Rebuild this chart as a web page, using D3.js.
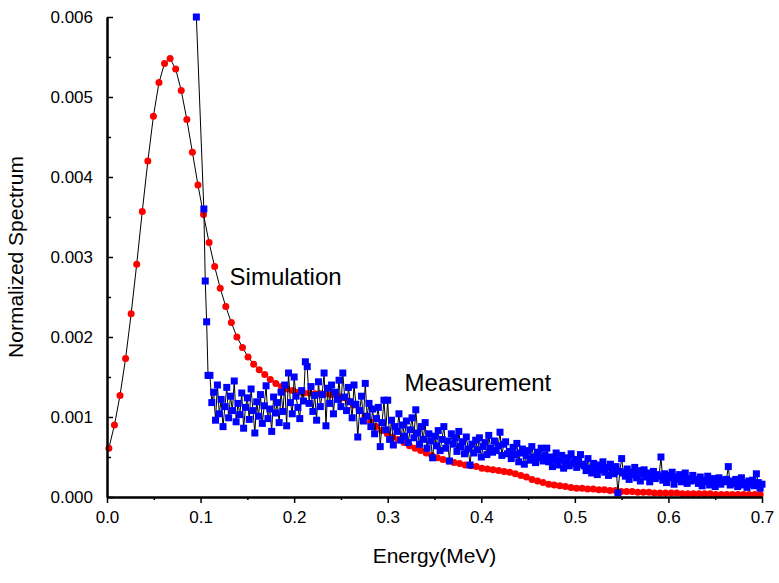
<!DOCTYPE html>
<html>
<head>
<meta charset="utf-8">
<script src="https://cdn.jsdelivr.net/npm/d3@7"></script>
<style>
  body { margin: 0; background: #fff; }
  text { font-family: Arial, "Liberation Sans", sans-serif; fill: #000; }
</style>
</head>
<body>
<div id="chart"></div>
<script>
// Simulation: one value per energy bin (bin width about 0.006 MeV), in units of 1e-5
var simStart = 0.002, simStep = 0.00595;
var simValues = [
  61, 90, 127, 173, 229, 291, 357, 420, 476, 518,
  542, 548, 535, 508, 472, 431, 390, 353, 318, 288,
  261, 238, 218, 200, 187, 175, 166, 159, 153, 147,
  142, 138, 135, 133, 131, 130, 130, 129, 129, 129,
  128, 127, 124, 120, 115, 108, 101, 94, 88, 83,
  79, 75, 72, 68, 64, 61, 58, 55, 52, 49,
  47, 45, 43, 42, 40, 39, 38, 36, 35, 34,
  33, 32, 31, 29, 27, 25, 22, 20, 18, 16,
  15, 14, 13, 12, 11, 11, 10, 10, 9, 9,
  8, 8, 7, 7, 7, 6, 6, 6, 5, 5,
  5, 5, 5, 4, 4, 4, 4, 4, 4, 3,
  3, 3, 3, 3, 3, 3, 3, 3
];

// Measurement: first points on the falling edge, given as [energy, value]
var measEdge = [[0.0955, 600], [0.1035, 360], [0.105, 270], [0.1065, 219], [0.108, 152]];
// then one value every 0.002 MeV from 0.110 to 0.700, in units of 1e-5
var measStart = 0.110, measStep = 0.002;
var measValues = [
  152, 118, 131, 96, 140, 104, 122, 88, 113, 137, 99, 126, 108, 145, 94, 117, 103, 130, 86, 112,
  124, 97, 135, 108, 80, 119, 101, 128, 92, 114, 139, 98, 110, 82, 125, 105, 118, 93, 131, 107,
  140, 89, 155, 118, 104, 150, 126, 112, 98, 133, 120, 169, 163, 117, 138, 107, 127, 96, 144, 113,
  128, 155, 89, 136, 117, 140, 104, 131, 122, 146, 113, 155, 125, 108, 137, 119, 99, 140, 116, 75,
  108, 126, 95, 142, 101, 117, 88, 110, 79, 98, 112, 63, 93, 121, 84, 121, 72, 96, 65, 88,
  82, 104, 71, 90, 76, 95, 68, 84, 99, 74, 109, 80, 66, 88, 72, 93, 61, 79, 70, 49,
  76, 64, 83, 58, 72, 88, 61, 70, 45, 79, 66, 74, 57, 82, 63, 69, 54, 75, 60, 40,
  66, 55, 71, 59, 74, 50, 63, 68, 53, 77, 61, 56, 70, 58, 64, 81, 52, 66, 69, 54,
  57, 48, 62, 53, 67, 44, 55, 60, 41, 52, 58, 46, 63, 50, 43, 56, 49, 61, 45, 52,
  61, 44, 50, 38, 47, 55, 40, 46, 52, 36, 43, 49, 39, 54, 42, 47, 37, 45, 53, 41,
  39, 33, 48, 36, 30, 42, 35, 28, 40, 34, 44, 31, 37, 27, 41, 33, 29, 38, 5, 32,
  48, 30, 26, 35, 22, 31, 28, 37, 24, 33, 20, 29, 34, 25, 30, 19, 27, 32, 23, 28,
  26, 50, 21, 29, 18, 27, 24, 31, 16, 25, 22, 28, 19, 26, 30, 17, 23, 20, 27, 21,
  22, 17, 25, 14, 21, 19, 26, 15, 20, 23, 13, 18, 24, 16, 21, 19, 22, 38, 15, 20,
  17, 22, 13, 19, 24, 15, 18, 12, 20, 16, 21, 14, 29, 18, 11, 16
];

var xTicks = [0, 0.1, 0.2, 0.3, 0.4, 0.5, 0.6, 0.7];
var xMinorTicks = [0.05, 0.15, 0.25, 0.35, 0.45, 0.55, 0.65];
var yTicks = [0, 0.001, 0.002, 0.003, 0.004, 0.005, 0.006];
var yMinorTicks = [0.0005, 0.0015, 0.0025, 0.0035, 0.0045, 0.0055];

var simData = simValues.map(function(v, i) {
  return { x: simStart + i * simStep, y: v * 1e-5 };
});
var measData = measEdge.map(function(d) { return { x: d[0], y: d[1] * 1e-5 }; })
  .concat(measValues.map(function(v, i) {
    return { x: measStart + i * measStep, y: v * 1e-5 };
  }));

var margin = {top: 17, right: 17, bottom: 86, left: 107},
    width = 779 - margin.left - margin.right,
    height = 583 - margin.top - margin.bottom;

var svg = d3.select("#chart")
  .append("svg")
  .attr("width", 779)
  .attr("height", 583)
  .append("g")
  .attr("transform", "translate(" + margin.left + "," + margin.top + ")");

var x = d3.scaleLinear().domain([0, 0.7]).range([0, width]);
var y = d3.scaleLinear().domain([0, 0.006]).range([height, 0]);

var line = d3.line().x(function(d) { return x(d.x); }).y(function(d) { return y(d.y); });

// simulation
svg.append("path").datum(simData)
  .attr("d", line).attr("fill", "none").attr("stroke", "#000").attr("stroke-width", 1);
svg.selectAll(".sim").data(simData).enter()
  .append("circle").attr("class", "sim")
  .attr("cx", function(d) { return x(d.x); })
  .attr("cy", function(d) { return y(d.y); })
  .attr("r", 3.5)
  .attr("fill", "#ff0000");

// measurement
svg.append("path").datum(measData)
  .attr("d", line).attr("fill", "none").attr("stroke", "#000").attr("stroke-width", 1);
svg.selectAll(".meas").data(measData).enter()
  .append("rect").attr("class", "meas")
  .attr("x", function(d) { return x(d.x) - 3.5; })
  .attr("y", function(d) { return y(d.y) - 3.5; })
  .attr("width", 7).attr("height", 7)
  .attr("fill", "#0000ff");

// axes: x ticks point down, y ticks point into the plot
var xAxis = d3.axisBottom(x).tickValues(xTicks).tickFormat(d3.format(".1f"))
  .tickSizeInner(6).tickSizeOuter(0).tickPadding(8);
var xMinor = d3.axisBottom(x).tickValues(xMinorTicks)
  .tickSizeInner(3).tickSizeOuter(0).tickFormat("");
var yAxis = d3.axisLeft(y).tickValues(yTicks).tickFormat(d3.format(".3f"))
  .tickSizeInner(-6).tickSizeOuter(0).tickPadding(14);
var yMinor = d3.axisLeft(y).tickValues(yMinorTicks)
  .tickSizeInner(-4).tickSizeOuter(0).tickFormat("");

function styleAxis(g) {
  g.select(".domain").attr("stroke", "#000").attr("stroke-width", 2);
  g.selectAll(".tick line").attr("stroke", "#000").attr("stroke-width", 1.5);
  g.selectAll(".tick text").attr("font-size", "17px").attr("fill", "#000")
    .attr("font-family", "Arial, 'Liberation Sans', sans-serif");
}

svg.append("g").attr("transform", "translate(0," + height + ")").call(xMinor).call(styleAxis);
svg.append("g").attr("transform", "translate(0," + height + ")").call(xAxis).call(styleAxis);
svg.append("g").call(yMinor).call(styleAxis);
svg.append("g").call(yAxis).call(styleAxis);

// titles
svg.append("text")
  .attr("x", width / 2).attr("y", height + 66)
  .attr("text-anchor", "middle").attr("font-size", "21px")
  .text("Energy(MeV)");
svg.append("text")
  .attr("transform", "translate(" + (-84) + "," + (height / 2) + ") rotate(-90)")
  .attr("text-anchor", "middle").attr("font-size", "21px")
  .text("Normalized Spectrum");

// annotations
svg.append("text")
  .attr("x", x(0.131)).attr("y", y(0.00265))
  .attr("font-size", "24px")
  .text("Simulation");
svg.append("text")
  .attr("x", x(0.318)).attr("y", y(0.00132))
  .attr("font-size", "24px")
  .text("Measurement");
</script>
</body>
</html>
